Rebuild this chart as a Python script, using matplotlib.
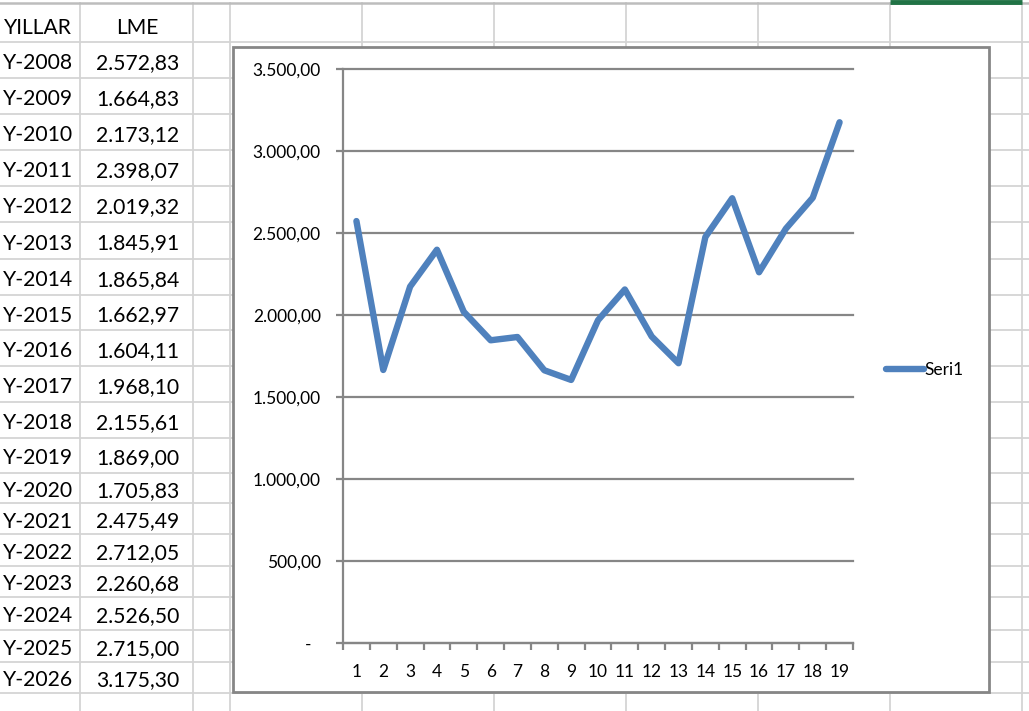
import numpy as np
import matplotlib
matplotlib.use("Agg")
import matplotlib.pyplot as plt
from matplotlib.patches import Rectangle
from matplotlib.ticker import FixedLocator, FuncFormatter

# --- veriler (tablodan okunan) ---
YILLAR = ["Y-2008", "Y-2009", "Y-2010", "Y-2011", "Y-2012", "Y-2013", "Y-2014",
          "Y-2015", "Y-2016", "Y-2017", "Y-2018", "Y-2019", "Y-2020", "Y-2021",
          "Y-2022", "Y-2023", "Y-2024", "Y-2025", "Y-2026"]
LME = [2572.83, 1664.83, 2173.12, 2398.07, 2019.32, 1845.91, 1865.84,
       1662.97, 1604.11, 1968.10, 2155.61, 1869.00, 1705.83, 2475.49,
       2712.05, 2260.68, 2526.50, 2715.00, 3175.30]
KATEGORI = list(range(1, len(LME) + 1))
Y_TICKS = [0, 500, 1000, 1500, 2000, 2500, 3000, 3500]
SERI_ADI = "Seri1"

FONT = "Lato"
GRI = "#868686"
IZGARA = "#d4d4d4"
MAVI = "#4f81bd"
W, H = 1029, 711


def tr_sayi(v):
    # 2572.83 -> 2.572,83 ; 0 -> "-" (Excel muhasebe bicimi)
    if v == 0:
        return "-  "
    s = f"{v:,.2f}"
    return s.replace(",", "#").replace(".", ",").replace("#", ".")


fig = plt.figure(figsize=(W / 100, H / 100), dpi=100)
fig.patch.set_facecolor("white")

# --- arka plan: tablo ızgarası (piksel koordinatlari) ---
bg = fig.add_axes([0, 0, 1, 1])
bg.set_xlim(0, W)
bg.set_ylim(H, 0)
bg.axis("off")

satir_cizgileri = [42, 78, 114, 150, 186, 222, 259, 295, 330, 366, 402, 438,
                   473, 503, 534, 566, 597, 630, 662, 693]
sutun_cizgileri = [80, 193, 230, 362, 494, 626, 758, 890, 1022]
for y in satir_cizgileri:
    bg.plot([0, W], [y, y], color=IZGARA, lw=1.3, zorder=1)
for x in sutun_cizgileri:
    bg.plot([x, x], [3, H], color=IZGARA, lw=1.3, zorder=1)
bg.plot([0, W], [3, 3], color="#bdbdbd", lw=1.8, zorder=2)
bg.plot([890, 1022], [1.5, 1.5], color="#217346", lw=3.5, zorder=3,
        solid_capstyle="butt")

# tablo metni
YAZI = 15.2
bg.text(38, 28, "YILLAR", ha="center", va="center", fontsize=YAZI,
        family=FONT, zorder=4)
bg.text(137, 28, "LME", ha="center", va="center", fontsize=YAZI,
        family=FONT, zorder=4)
for i, (yil, deger) in enumerate(zip(YILLAR, LME)):
    yc = (satir_cizgileri[i] + satir_cizgileri[i + 1]) / 2 + 3
    bg.text(38, yc, yil, ha="center", va="center", fontsize=YAZI,
            family=FONT, zorder=4)
    bg.text(138, yc, tr_sayi(deger), ha="center", va="center", fontsize=YAZI,
            family=FONT, zorder=4)

# grafik cercevesi
bg.add_patch(Rectangle((233, 47), 989 - 233, 692 - 47, facecolor="white",
                       edgecolor=GRI, lw=2.0, zorder=5))

# --- grafik alanı ---
sol, sag, ust, alt = 343, 853, 69, 643
ax = fig.add_axes([sol / W, (H - alt) / H, (sag - sol) / W, (alt - ust) / H])
ax.set_facecolor("none")
ax.plot(KATEGORI, LME, color=MAVI, lw=4.6, solid_capstyle="round",
        solid_joinstyle="round", label=SERI_ADI, zorder=3)

ax.set_xlim(0.5, len(LME) + 0.5)
ax.set_ylim(0, 3500)
ax.yaxis.set_major_locator(FixedLocator(Y_TICKS))
ax.yaxis.set_major_formatter(FuncFormatter(lambda v, p: tr_sayi(v)))
ax.xaxis.set_major_locator(FixedLocator(KATEGORI))
ax.xaxis.set_minor_locator(FixedLocator(np.arange(0.5, len(LME) + 1, 1.0)))

for s in ["top", "right"]:
    ax.spines[s].set_visible(False)
for s in ["left", "bottom"]:
    ax.spines[s].set_color(GRI)
    ax.spines[s].set_linewidth(1.6)

ax.grid(axis="y", color=GRI, lw=1.6)
ax.set_axisbelow(True)
for gl in ax.get_ygridlines():
    gl.set_clip_on(False)

ax.tick_params(axis="y", which="major", length=5, width=1.6, color=GRI,
               pad=11, labelsize=12.5)
ax.tick_params(axis="x", which="major", length=0, pad=15, labelsize=12.5)
ax.tick_params(axis="x", which="minor", length=5, width=1.6, color=GRI)
for lab in ax.get_xticklabels() + ax.get_yticklabels():
    lab.set_family(FONT)

leg = ax.legend(loc="center left", bbox_to_anchor=(870, 370),
                bbox_transform=bg.transData, frameon=False,
                handlelength=2.2, handletextpad=0.05,
                prop={"family": FONT, "size": 12.5})

fig.savefig("out.png", dpi=100, facecolor="white")
